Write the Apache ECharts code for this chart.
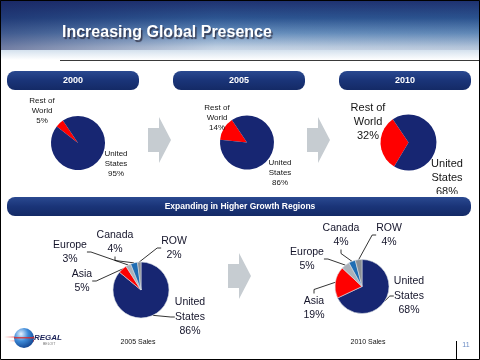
<!DOCTYPE html>
<html><head><meta charset="utf-8">
<script src="https://cdn.jsdelivr.net/npm/echarts@6/dist/echarts.min.js"></script>
<style>html,body{margin:0;padding:0;background:#fff}#c{width:480px;height:360px}</style>
</head><body><div id="c"></div>
<script>
// ---- data ----
const years = ['2000', '2005', '2010'];
const usShare = [95, 86, 68];
const rowShare = [5, 14, 32];
const regions = ['United States', 'Asia', 'Europe', 'Canada', 'ROW'];
const regionLabels = ['United\nStates', 'Asia', 'Europe', 'Canada', 'ROW'];
const sales2005 = [86, 5, 3, 4, 2];
const sales2010 = [68, 19, 5, 4, 4];
const salesTitles = ['2005 Sales', '2010 Sales'];
const mainTitle = 'Increasing Global Presence';
const bandTitle = 'Expanding in Higher Growth Regions';
const pageNo = '11';

// ---- layout (positions / styles only) ----
const NAVY = '#172672', RED = '#ff0000';
const regionColors = [NAVY, RED, '#aab1ba', '#1f6db4', '#8b8f95'];
const topLayout = [
  {center: [78, 143], r: 27, rowLbl: [42, 111], usLbl: [116, 164], fs: 8, lh: 10},
  {center: [247, 142.5], r: 27, rowLbl: [217, 118], usLbl: [280, 173], fs: 8, lh: 10},
  {center: [408.5, 142.5], r: 28, rowLbl: [368, 122], usLbl: [447, 178], fs: 11, lh: 14}
];
const pillX = [7, 173, 339];
const botLayout = [
  {center: [141, 290], r: 28, lbl: [[190, 317], [82, 281], [70, 252], [115, 242], [174, 248]], cap: [138, 342]},
  {center: [362, 286.5], r: 27, lbl: [[409, 296], [314, 308], [307, 259], [341, 235], [389, 235]], cap: [368, 342]}
];

const series = [];
years.forEach((y, i) => {
  const L = topLayout[i];
  series.push({
    type: 'pie', center: L.center, radius: [0, L.r],
    startAngle: 124 + rowShare[i] * 3.6, clockwise: true,
    silent: true, animation: false, avoidLabelOverlap: false,
    itemStyle: {borderWidth: 0},
    data: [
      {name: 'Rest of World', value: rowShare[i], itemStyle: {color: RED}},
      {name: 'United States', value: usShare[i], itemStyle: {color: NAVY}}
    ],
    label: {
      show: true, color: '#151515', fontFamily: 'Liberation Sans Narrow, Liberation Sans, Arial',
      fontSize: L.fs, lineHeight: L.lh, align: 'center',
      formatter: p => (p.dataIndex === 0 ? 'Rest of\nWorld\n' : 'United\nStates\n') + p.value + '%'
    },
    labelLine: {show: false},
    labelLayout: p => {
      const pos = p.dataIndex === 0 ? L.rowLbl : L.usLbl;
      return {x: pos[0], y: pos[1], align: 'center', verticalAlign: 'middle'};
    }
  });
});
[sales2005, sales2010].forEach((vals, k) => {
  const L = botLayout[k];
  series.push({
    type: 'pie', center: L.center, radius: [0, L.r],
    startAngle: 90, clockwise: true, silent: true, animation: false, avoidLabelOverlap: false,
    itemStyle: {borderColor: '#d8dde3', borderWidth: 0.6},
    data: regions.map((n, j) => ({name: n, value: vals[j], itemStyle: {color: regionColors[j]}})),
    label: {
      show: true, color: '#14142a', fontFamily: 'Liberation Sans, Arial', fontSize: 10.5,
      lineHeight: 14.5, align: 'center',
      formatter: p => regionLabels[p.dataIndex] + '\n' + p.value + '%'
    },
    labelLine: {show: true, length: 6, length2: 4, lineStyle: {color: '#000', width: 0.8}},
    labelLayout: p => {
      const pos = L.lbl[p.dataIndex];
      return {x: pos[0], y: pos[1], align: 'center', verticalAlign: 'middle'};
    }
  });
});

const pillFill = new echarts.graphic.LinearGradient(0, 0, 0, 1, [
  {offset: 0, color: '#2a4990'}, {offset: 0.5, color: '#1a3478'}, {offset: 1, color: '#142a66'}]);
const arrowFill = '#c6ccd1';
function arrow(x, y) { // x: left, y: centre
  return {type: 'polygon', z: 5, silent: true,
    shape: {points: [[x, y - 12], [x + 11, y - 12], [x + 11, y - 23], [x + 23, y], [x + 11, y + 23], [x + 11, y + 12], [x, y + 12]]},
    style: {fill: arrowFill}};
}

const graphic = [
  {type: 'rect', z: 1, silent: true, shape: {x: 0, y: 0, width: 480, height: 60},
    style: {fill: new echarts.graphic.LinearGradient(0, 0, 0, 1, [
      {offset: 0, color: '#1f3170'}, {offset: 0.3, color: '#2e5894'}, {offset: 0.55, color: '#6b95c2'},
      {offset: 0.78, color: '#c6d7e8'}, {offset: 1, color: '#ffffff'}])}},
  {type: 'rect', z: 1, silent: true, shape: {x: 0, y: 0, width: 480, height: 50},
    style: {fill: new echarts.graphic.LinearGradient(0, 0, 1, 0, [
      {offset: 0, color: 'rgba(20,30,90,0.5)'}, {offset: 0.45, color: 'rgba(20,30,90,0.05)'},
      {offset: 1, color: 'rgba(20,40,100,0.12)'}])}},
  {type: 'text', z: 10, silent: true, x: 62, y: 33,
    style: {text: mainTitle, fill: '#ffffff', font: 'bold 16px Liberation Sans, Arial', verticalAlign: 'middle',
      textShadowColor: 'rgba(40,40,60,0.8)', textShadowOffsetX: 1.5, textShadowOffsetY: 1.5, textShadowBlur: 1}},
  {type: 'line', z: 10, silent: true, shape: {x1: 60, y1: 60.5, x2: 480, y2: 60.5}, style: {stroke: '#3a3a3a', lineWidth: 1.2}},
  ...years.map((y, i) => ({type: 'rect', z: 10, silent: true, shape: {x: pillX[i], y: 71, width: 132, height: 19, r: 8},
    style: {fill: pillFill}})),
  ...years.map((y, i) => ({type: 'text', z: 11, silent: true, x: pillX[i] + 66, y: 81,
    style: {text: y, fill: '#fff', font: 'bold 9px Liberation Sans, Arial', align: 'center', verticalAlign: 'middle'}})),
  arrow(148, 140), arrow(307, 140), arrow(228, 276),
  {type: 'rect', z: 100, silent: true, shape: {x: 7, y: 197, width: 464, height: 19, r: 8}, style: {fill: pillFill}},
  {type: 'rect', z: 99, silent: true, shape: {x: 0, y: 194, width: 480, height: 3}, style: {fill: '#fff'}},
  {type: 'text', z: 101, silent: true, x: 240, y: 207,
    style: {text: bandTitle, fill: '#fff', font: 'bold 8.5px Liberation Sans, Arial', align: 'center', verticalAlign: 'middle'}},
  ...salesTitles.map((t, k) => ({type: 'text', z: 10, silent: true, x: botLayout[k].cap[0], y: botLayout[k].cap[1],
    style: {text: t, fill: '#111', font: '7px Liberation Sans, Arial', align: 'center', verticalAlign: 'middle'}})),
  // logo
  {type: 'rect', z: 9, silent: true, shape: {x: 4, y: 336, width: 30, height: 2},
    style: {fill: new echarts.graphic.LinearGradient(0, 0, 1, 0, [{offset: 0, color: 'rgba(230,40,40,0)'}, {offset: 1, color: '#e02020'}])}},
  {type: 'rect', z: 9, silent: true, shape: {x: 8, y: 340, width: 26, height: 1.5},
    style: {fill: new echarts.graphic.LinearGradient(0, 0, 1, 0, [{offset: 0, color: 'rgba(230,40,40,0)'}, {offset: 1, color: '#e02020'}])}},
  {type: 'circle', z: 10, silent: true, shape: {cx: 24, cy: 338, r: 10},
    style: {fill: new echarts.graphic.RadialGradient(0.35, 0.3, 0.8, [
      {offset: 0, color: '#e8f4ff'}, {offset: 0.45, color: '#3d8ad8'}, {offset: 1, color: '#0c3a86'}])}},
  {type: 'rect', z: 11, silent: true, shape: {x: 14, y: 337, width: 20, height: 1.5}, style: {fill: 'rgba(220,40,40,0.8)'}},
  {type: 'text', z: 12, silent: true, x: 34, y: 338,
    style: {text: 'REGAL', fill: '#1a2258', font: 'italic bold 8px Liberation Sans, Arial', verticalAlign: 'middle'}},
  {type: 'text', z: 12, silent: true, x: 43, y: 344,
    style: {text: 'BELOIT', fill: '#777', font: '3.5px Liberation Sans, Arial', verticalAlign: 'middle'}},
  // page number
  {type: 'line', z: 10, silent: true, shape: {x1: 456.5, y1: 341, x2: 456.5, y2: 360}, style: {stroke: '#000', lineWidth: 1}},
  {type: 'text', z: 10, silent: true, x: 466, y: 345,
    style: {text: pageNo, fill: '#6a8bc4', font: '7px Liberation Sans, Arial', align: 'center', verticalAlign: 'middle'}},
  // frame
  {type: 'rect', z: 200, silent: true, shape: {x: 0.5, y: 0.5, width: 479, height: 359}, style: {fill: 'none', stroke: '#000', lineWidth: 1}}
];

const chart = echarts.init(document.getElementById('c'), null, {renderer: 'canvas'});
chart.setOption({animation: false, backgroundColor: '#ffffff', series, graphic});
</script></body></html>
